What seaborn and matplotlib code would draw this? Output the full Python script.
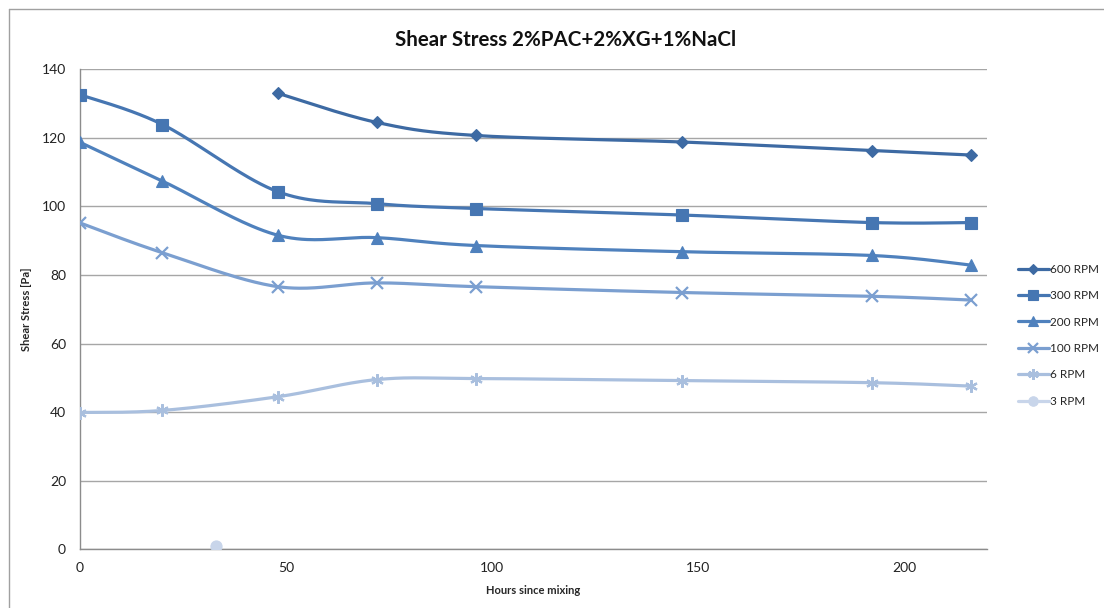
import numpy as np
import matplotlib
matplotlib.use("Agg")
import matplotlib.pyplot as plt
from matplotlib.lines import Line2D
import seaborn as sns

# Measurement times (hours since mixing)
hours = [0, 20, 48, 72, 96, 146, 192, 216]

# Shear stress readings [Pa] per rotor speed
rpm600_hours = [48, 72, 96, 146, 192, 216]
rpm600 = [133.0, 124.5, 120.7, 118.8, 116.3, 115.0]
rpm300 = [132.6, 123.9, 104.3, 100.8, 99.4, 97.5, 95.3, 95.3]
rpm200 = [118.7, 107.4, 91.6, 90.9, 88.6, 86.8, 85.7, 82.9]
rpm100 = [95.2, 86.5, 76.6, 77.7, 76.6, 74.9, 73.8, 72.7]
rpm6 = [39.9, 40.5, 44.5, 49.5, 49.8, 49.2, 48.6, 47.6]
rpm3_hours = [33]
rpm3 = [1.0]

series_names = ["600 RPM", "300 RPM", "200 RPM", "100 RPM", "6 RPM", "3 RPM"]
series_x = [rpm600_hours, hours, hours, hours, hours, rpm3_hours]
series_y = [rpm600, rpm300, rpm200, rpm100, rpm6, rpm3]
colors = ["#3d6aa3", "#4676b2", "#4f81bd", "#7b9fd0", "#a9bfde", "#c8d5ea"]
markers = ["D", "s", "^", "x", (6, 2, 0), "o"]
msizes = [6, 8, 8, 8, 9, 8]


def smooth_curve(x, y, steps=40):
    """Cubic Bezier smoothing through every point (Catmull-Rom style)."""
    p = np.column_stack([x, y]).astype(float)
    n = len(p)
    if n < 2:
        return p[:, 0], p[:, 1]
    ext = np.vstack([p[0], p, p[-1]])
    t = np.linspace(0, 1, steps)[:, None]
    out = []
    for i in range(n - 1):
        p0, p1, p2, p3 = ext[i], ext[i + 1], ext[i + 2], ext[i + 3]
        c1 = p1 + (p2 - p0) / 6.0
        c2 = p2 - (p3 - p1) / 6.0
        seg = ((1 - t) ** 3) * p1 + 3 * ((1 - t) ** 2) * t * c1 \
            + 3 * (1 - t) * t ** 2 * c2 + t ** 3 * p2
        out.append(seg if i == 0 else seg[1:])
    out = np.vstack(out)
    return out[:, 0], out[:, 1]


sns.set_theme(style="white")
plt.rcParams["font.family"] = ["Lato", "DejaVu Sans"]

fig = plt.figure(figsize=(11.04, 6.08), dpi=100)
ax = fig.add_axes([80 / 1104, 1 - 549.3 / 608, (987 - 80) / 1104, (549.3 - 69.3) / 608])

handles = []
for name, xs, ys, c, m, ms in zip(series_names, series_x, series_y, colors, markers, msizes):
    if len(xs) > 1:
        cx, cy = smooth_curve(xs, ys)
        sns.lineplot(x=cx, y=cy, ax=ax, color=c, linewidth=2.3, sort=False,
                     estimator=None, legend=False, zorder=3)
    mew = 1.6 if m in ("x",) or isinstance(m, tuple) else 0.8
    ax.plot(xs, ys, linestyle="none", marker=m, markersize=ms, color=c,
            markeredgecolor=c, markeredgewidth=mew, zorder=4)
    handles.append(Line2D([0], [0], color=c, linewidth=2.3, marker=m,
                          markersize=ms * 0.85, markeredgecolor=c,
                          markeredgewidth=mew, label=name))

ax.set_xlim(0, 220)
ax.set_ylim(0, 140)
ax.set_xticks([0, 50, 100, 150, 200])
ax.set_yticks(range(0, 141, 20))
ax.grid(axis="y", color="#a6a6a6", linewidth=1.0)
ax.grid(axis="x", visible=False)
ax.set_axisbelow(True)
for side in ("top", "right"):
    ax.spines[side].set_visible(False)
for side in ("left", "bottom"):
    ax.spines[side].set_color("#8c8c8c")
    ax.spines[side].set_linewidth(1.0)
ax.tick_params(axis="both", length=0, labelsize=10, colors="#222222")
ax.tick_params(axis="y", pad=10)
ax.tick_params(axis="x", pad=9)

ax.set_xlabel("Hours since mixing", fontsize=8, fontweight="bold", labelpad=8)
ax.set_ylabel("Shear Stress [Pa]", fontsize=8, fontweight="bold", labelpad=7)

fig.text(566 / 1104, 1 - 40 / 608, "Shear Stress 2%PAC+2%XG+1%NaCl",
         ha="center", va="center", fontsize=14.8, fontweight="bold", color="#111111")

leg = fig.legend(handles=handles, loc="upper left",
                 bbox_to_anchor=(1012 / 1104, 1 - 258 / 608), frameon=False,
                 fontsize=8.5, handlelength=2.6, handletextpad=0.15,
                 labelspacing=1.3, borderpad=0)

# outer chart border
fig.add_artist(Line2D([9 / 1104, 1.0], [1 - 9 / 608, 1 - 9 / 608],
                      transform=fig.transFigure, color="#a0a0a0", linewidth=1.0))
fig.add_artist(Line2D([9 / 1104, 9 / 1104], [0.0, 1 - 9 / 608],
                      transform=fig.transFigure, color="#a0a0a0", linewidth=1.0))

fig.savefig("out.png", dpi=100, facecolor="white")
